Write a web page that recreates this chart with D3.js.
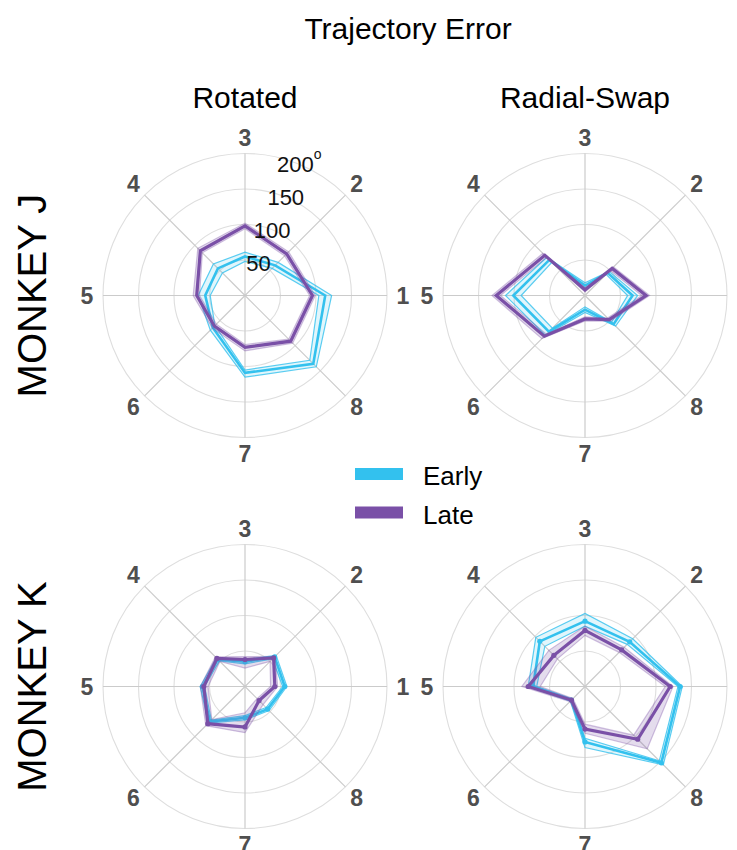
<!DOCTYPE html>
<html>
<head>
<meta charset="utf-8">
<script src="https://cdn.jsdelivr.net/npm/d3@7"></script>
<style>
  body { margin: 0; background: #fff; }
  svg { display: block; font-family: "Liberation Sans", Arial, Helvetica, sans-serif; }
</style>
</head>
<body>
<svg id="chart" width="737" height="850"></svg>
<script>
// Reach directions (targets 1-8, counter-clockwise from the right) and ring ticks (degrees)
const directions = [1, 2, 3, 4, 5, 6, 7, 8];
const ringTicks = [50, 100, 150, 200];
const seriesNames = ["Early", "Late"];
const conditions = ["Rotated", "Radial-Swap"];
const monkeys = ["MONKEY J", "MONKEY K"];

// Monkey J, rotated mapping: mean and band (lower/upper) per direction
const jRotEarlyMean = [113, 60, 55, 54, 56, 64, 109, 136];
const jRotEarlyLo   = [104, 54, 48, 45, 49, 60, 105, 129];
const jRotEarlyHi   = [122, 66, 61, 63, 66, 69, 115, 142];
const jRotLateMean  = [95, 83, 98, 89, 68, 61, 73, 91];
const jRotLateLo    = [91, 79, 94, 85, 64, 57, 69, 87];
const jRotLateHi    = [99, 87, 102, 94, 73, 65, 78, 95];

// Monkey J, radial-swap mapping
const jSwapEarlyMean = [67, 45, 14, 71, 101, 72, 20, 57];
const jSwapEarlyLo   = [60, 42, 10, 66, 90, 65, 16, 53];
const jSwapEarlyHi   = [74, 48, 18, 76, 112, 79, 24, 61];
const jSwapLateMean  = [86, 54, 8, 80, 125, 81, 33, 48];
const jSwapLateLo    = [80, 50, 5, 76, 119, 77, 30, 45];
const jSwapLateHi    = [91, 57, 11, 84, 131, 86, 36, 51];

// Monkey K, rotated mapping
const kRotEarlyMean = [56, 59, 35, 54, 60, 70, 44, 45];
const kRotEarlyLo   = [53, 55, 32, 51, 57, 67, 41, 42];
const kRotEarlyHi   = [59, 62, 38, 57, 63, 73, 47, 48];
const kRotLateMean  = [42, 57, 38, 56, 58, 74, 57, 28];
const kRotLateLo    = [36, 50, 26, 50, 52, 66, 37, 24];
const kRotLateHi    = [46, 60, 42, 59, 63, 78, 65, 36];

// Monkey K, radial-swap mapping
const kSwapEarlyMean = [134, 89, 92, 90, 73, 27, 78, 152];
const kSwapEarlyLo   = [131, 84, 85, 80, 68, 25, 73, 148];
const kSwapEarlyHi   = [137, 95, 103, 98, 80, 29, 86, 156];
const kSwapLateMean  = [120, 73, 79, 62, 80, 27, 60, 105];
const kSwapLateLo    = [113, 68, 72, 55, 63, 24, 53, 97];
const kSwapLateHi    = [124, 78, 85, 72, 89, 30, 66, 124];

const colors = { Early: "#33c1ee", Late: "#7a50a7" };

const panels = [
  { row: 0, col: 0, rLabels: true,  dots: false,
    Early: [jRotEarlyMean, jRotEarlyLo, jRotEarlyHi], Late: [jRotLateMean, jRotLateLo, jRotLateHi] },
  { row: 0, col: 1, rLabels: false, dots: false,
    Early: [jSwapEarlyMean, jSwapEarlyLo, jSwapEarlyHi], Late: [jSwapLateMean, jSwapLateLo, jSwapLateHi] },
  { row: 1, col: 0, rLabels: false, dots: true,
    Early: [kRotEarlyMean, kRotEarlyLo, kRotEarlyHi], Late: [kRotLateMean, kRotLateLo, kRotLateHi] },
  { row: 1, col: 1, rLabels: false, dots: true,
    Early: [kSwapEarlyMean, kSwapEarlyLo, kSwapEarlyHi], Late: [kSwapLateMean, kSwapLateLo, kSwapLateHi] }
];

const svg = d3.select("#chart");
const colX = [245, 585];
const rowY = [295.5, 686.5];
const outerR = 142;

// radius in degrees of error; direction 1 sits at 3 o'clock, numbering counter-clockwise
const r = d3.scaleLinear().domain([0, 200]).range([0, outerR]);
const angle = d3.scaleLinear().domain([1, 9]).range([Math.PI / 2, Math.PI / 2 - 2 * Math.PI]);
const xy = (a, rad) => [rad * Math.sin(a), -rad * Math.cos(a)];

// Titles
svg.append("text").attr("x", 408).attr("y", 39).attr("text-anchor", "middle")
  .attr("font-size", 30).attr("fill", "#000").text("Trajectory Error");
conditions.forEach((c, i) => {
  svg.append("text").attr("x", colX[i]).attr("y", 108).attr("text-anchor", "middle")
    .attr("font-size", 30).attr("fill", "#000").text(c);
});
monkeys.forEach((m, i) => {
  svg.append("text")
    .attr("transform", `translate(46,${rowY[i]}) rotate(-90)`)
    .attr("text-anchor", "middle").attr("font-size", 40).attr("fill", "#000").text(m);
});

panels.forEach(p => {
  const g = svg.append("g").attr("transform", `translate(${colX[p.col]},${rowY[p.row]})`);

  // grid rings and spokes
  g.selectAll("circle.ring").data(ringTicks).join("circle")
    .attr("r", d => r(d)).attr("fill", "none").attr("stroke", "#dedede").attr("stroke-width", 1.1);
  g.selectAll("line.spoke").data(directions).join("line")
    .attr("x1", 0).attr("y1", 0)
    .attr("x2", d => xy(angle(d), r(200))[0])
    .attr("y2", d => xy(angle(d), r(200))[1])
    .attr("stroke", "#cbcbcb").attr("stroke-width", 1.2);

  // direction labels
  g.selectAll("text.dir").data(directions).join("text")
    .attr("x", d => xy(angle(d), outerR + 16)[0])
    .attr("y", d => xy(angle(d), outerR + 16)[1])
    .attr("text-anchor", "middle").attr("dominant-baseline", "central")
    .attr("font-size", 23).attr("font-weight", "bold").attr("fill", "#4f4f4f")
    .text(d => d);

  // series: band, band edges, mean line
  seriesNames.forEach(name => {
    const [mean, lo, hi] = p[name];
    const rows = directions.map((d, i) => ({ d, m: mean[i], lo: lo[i], hi: hi[i] }));
    const col = colors[name];

    const area = d3.areaRadial()
      .angle(v => angle(v.d))
      .innerRadius(v => r(v.lo)).outerRadius(v => r(v.hi))
      .curve(d3.curveLinearClosed);
    g.append("path").datum(rows).attr("d", area)
      .attr("fill", col).attr("fill-opacity", name === "Late" ? 0.2 : 0.15)
      .attr("fill-rule", "evenodd").attr("stroke", "none");

    ["lo", "hi"].forEach(k => {
      const edge = d3.lineRadial().angle(v => angle(v.d)).radius(v => r(v[k])).curve(d3.curveLinearClosed);
      g.append("path").datum(rows).attr("d", edge)
        .attr("fill", "none").attr("stroke", col)
        .attr("stroke-opacity", name === "Late" ? 0.35 : 0.8)
        .attr("stroke-width", 1.2);
    });

    const line = d3.lineRadial().angle(v => angle(v.d)).radius(v => r(v.m)).curve(d3.curveLinearClosed);
    g.append("path").datum(rows).attr("d", line)
      .attr("fill", "none").attr("stroke", col)
      .attr("stroke-width", name === "Late" ? 3.2 : 2.6).attr("stroke-linejoin", "miter");

    if (p.dots) {
      g.selectAll(null).data(rows).join("circle")
        .attr("cx", v => xy(angle(v.d), r(v.m))[0])
        .attr("cy", v => xy(angle(v.d), r(v.m))[1])
        .attr("r", 2.6).attr("fill", col);
    }
  });

  // radial tick labels
  if (p.rLabels) {
    const la = angle(1) - (Math.PI / 2) * 0.75; // 67.5 degrees above the horizontal
    ringTicks.forEach(t => {
      const [x, y] = xy(la, r(t));
      const txt = g.append("text").attr("x", x).attr("y", y)
        .attr("text-anchor", "middle").attr("dominant-baseline", "central")
        .attr("font-size", 22).attr("fill", "#111");
      txt.append("tspan").text(t);
      if (t === 200) {
        txt.append("tspan").attr("dy", -10).attr("font-size", 14).text("o");
      }
    });
  }
});

// Legend
const legend = svg.append("g");
seriesNames.forEach((name, i) => {
  legend.append("rect").attr("x", 355).attr("y", 468 + i * 38.5).attr("width", 48).attr("height", 12)
    .attr("fill", colors[name]);
  legend.append("text").attr("x", 423).attr("y", 485 + i * 38.5)
    .attr("font-size", 26).attr("fill", "#000").text(name);
});
</script>
</body>
</html>
